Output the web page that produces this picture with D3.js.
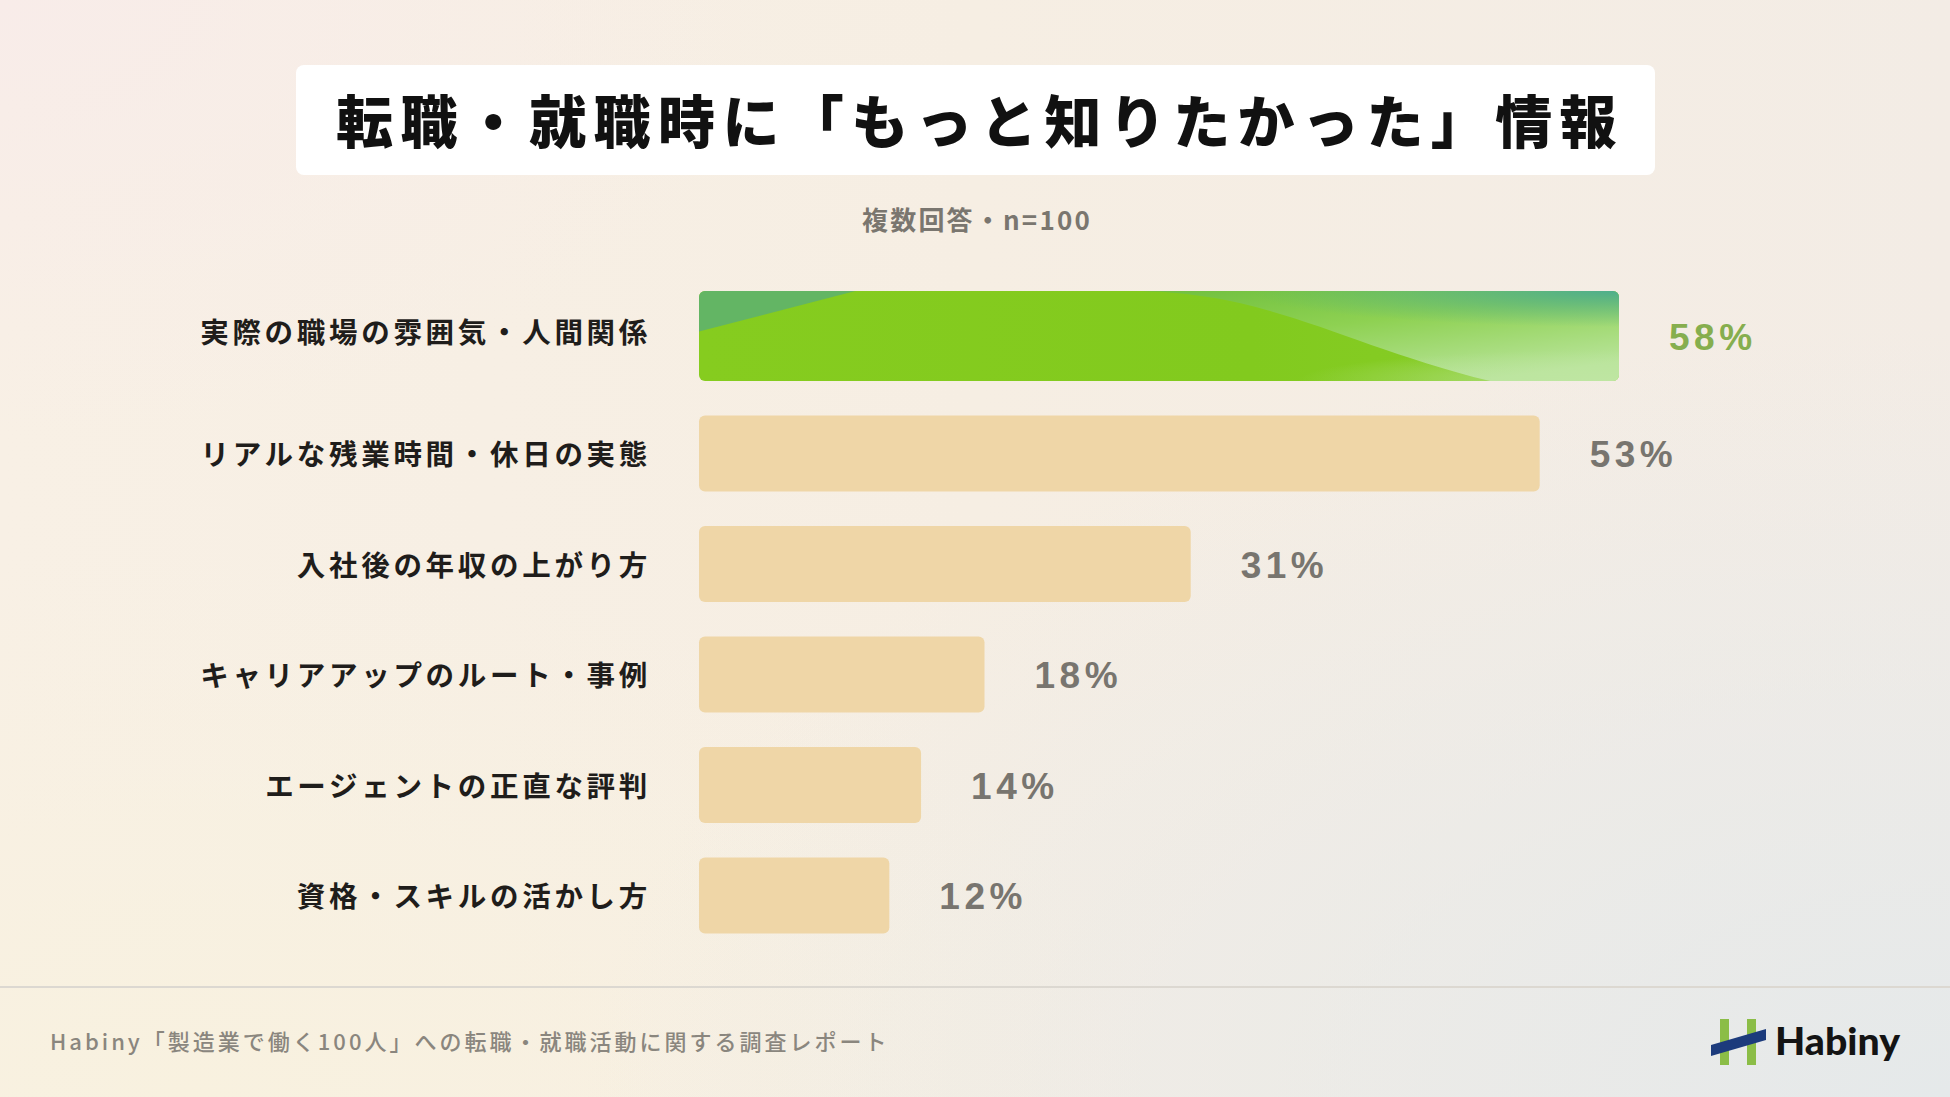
<!DOCTYPE html>
<html lang="ja">
<head>
<meta charset="utf-8">
<script src="https://cdn.jsdelivr.net/npm/d3@7"></script>
<style>
  body { margin: 0; overflow: hidden; }
  svg { display: block; }
</style>
</head>
<body>
<svg></svg>
<script>
        // data
        const categories = [
            "実際の職場の雰囲気・人間関係",
            "リアルな残業時間・休日の実態",
            "入社後の年収の上がり方",
            "キャリアアップのルート・事例",
            "エージェントの正直な評判",
            "資格・スキルの活かし方"
        ];
        const values = [58, 53, 31, 18, 14, 12];
        const highlightIndex = 0;

        const titleText = "転職・就職時に「もっと知りたかった」情報";
        const subtitleText = "複数回答・n=100";
        const footerText = "Habiny「製造業で働く100人」への転職・就職活動に関する調査レポート";
        const logoText = "Habiny";

        const svgWidth = 1950;
        const svgHeight = 1097;

        const svg = d3.select("svg")
            .attr("width", svgWidth)
            .attr("height", svgHeight);

        const defs = svg.append("defs");

        function linear(id, x1, y1, x2, y2, stops) {
            const g = defs.append("linearGradient").attr("id", id)
                .attr("x1", x1).attr("y1", y1).attr("x2", x2).attr("y2", y2);
            stops.forEach(s => g.append("stop").attr("offset", s[0]).attr("stop-color", s[1]).attr("stop-opacity", s[2] == null ? 1 : s[2]));
        }
        function radial(id, cx, cy, r, stops) {
            const g = defs.append("radialGradient").attr("id", id)
                .attr("cx", cx).attr("cy", cy).attr("r", r);
            stops.forEach(s => g.append("stop").attr("offset", s[0]).attr("stop-color", s[1]).attr("stop-opacity", s[2] == null ? 1 : s[2]));
        }

        // background
        linear("bgBase", 0, 0, 1, 0, [[0, "#f8f0e5"], [0.5, "#f6eee3"], [1, "#f3ece5"]]);
        radial("bgBR", 1, 1, 0.7, [[0, "#e5e9ea"], [1, "#e5e9ea", 0]]);
        radial("bgTL", 0, 0, 0.4, [[0, "#f8ece9"], [1, "#f8ece9", 0]]);
        radial("bgBL", 0.1, 1, 0.5, [[0, "#f8f1df"], [1, "#f8f1df", 0]]);

        svg.append("rect").attr("width", svgWidth).attr("height", svgHeight).attr("fill", "url(#bgBase)");
        svg.append("rect").attr("width", svgWidth).attr("height", svgHeight).attr("fill", "url(#bgBL)");
        svg.append("rect").attr("width", svgWidth).attr("height", svgHeight).attr("fill", "url(#bgTL)");
        svg.append("rect").attr("width", svgWidth).attr("height", svgHeight).attr("fill", "url(#bgBR)");

        // title
        svg.append("rect")
            .attr("x", 296).attr("y", 65)
            .attr("width", 1359).attr("height", 110)
            .attr("rx", 8)
            .attr("fill", "#ffffff");

        svg.append("text")
            .attr("x", 980).attr("y", 118)
            .attr("text-anchor", "middle")
            .attr("dominant-baseline", "central")
            .style("font-family", "'Noto Sans CJK JP', sans-serif")
            .style("font-size", "57px")
            .style("font-weight", 900)
            .style("letter-spacing", "7.4px")
            .attr("fill", "#111111")
            .text(titleText);

        svg.append("text")
            .attr("x", 977).attr("y", 218.5)
            .attr("text-anchor", "middle")
            .attr("dominant-baseline", "central")
            .style("font-family", "'Noto Sans CJK JP', sans-serif")
            .style("font-size", "26px")
            .style("font-weight", 700)
            .style("letter-spacing", "2.2px")
            .attr("fill", "#7a766f")
            .text(subtitleText);

        // rows: highlighted row is taller, fixed gap between bars
        const barLeft = 699;
        const rowGap = 34.5;
        const barHeight = i => i === highlightIndex ? 90 : 76;
        const tops = categories.map((c, i) => 291 + d3.sum(categories.slice(0, i), (cc, j) => barHeight(j) + rowGap));

        const y = d3.scaleOrdinal().domain(categories).range(tops);
        const x = d3.scaleLinear().domain([0, d3.max(values)]).range([0, 920]);

        const rows = categories.map((c, i) => ({ name: c, value: values[i], i: i }));

        // green bar texture
        linear("hlBase", 0, 0, 1, 0, [[0, "#86cc1f"], [0.6, "#82ca1e"], [1, "#88cd2a"]]);
        linear("hlWave", 0, 0, 0.7, 1, [[0, "#6fbf3e"], [0.45, "#8ed152"], [1, "#b9e49b"]]);
        radial("hlTeal", 1, 0, 0.4, [[0, "#4fae8c"], [1, "#4fae8c", 0]]);
        radial("hlLight", 1, 1, 0.35, [[0, "#c0e6a4", 0.8], [1, "#c0e6a4", 0]]);

        const bars = svg.append("g");

        rows.forEach(d => {
            const w = x(d.value);
            const h = barHeight(d.i);
            const top = y(d.name);
            if (d.i === highlightIndex) {
                defs.append("clipPath").attr("id", "hlClip")
                    .append("rect")
                    .attr("x", barLeft).attr("y", top)
                    .attr("width", w).attr("height", h)
                    .attr("rx", 6);
                const g = bars.append("g").attr("clip-path", "url(#hlClip)");
                g.append("rect")
                    .attr("x", barLeft).attr("y", top)
                    .attr("width", w).attr("height", h)
                    .attr("fill", "url(#hlBase)");
                const wave = `M${barLeft + 0.47 * w},${top}` +
                    ` C${barLeft + 0.62 * w},${top} ${barLeft + 0.70 * w},${top + 0.6 * h} ${barLeft + 0.86 * w},${top + h}` +
                    ` L${barLeft + w},${top + h} L${barLeft + w},${top} Z`;
                g.append("path").attr("d", wave).attr("fill", "url(#hlWave)");
                g.append("rect")
                    .attr("x", barLeft).attr("y", top)
                    .attr("width", w).attr("height", h)
                    .attr("fill", "url(#hlTeal)");
                g.append("rect")
                    .attr("x", barLeft).attr("y", top)
                    .attr("width", w).attr("height", h)
                    .attr("fill", "url(#hlLight)");
                g.append("path")
                    .attr("d", `M${barLeft},${top} L${barLeft + 0.17 * w},${top} L${barLeft},${top + 0.45 * h} Z`)
                    .attr("fill", "#5fb36c")
                    .attr("opacity", 0.9);
            } else {
                bars.append("rect")
                    .attr("x", barLeft).attr("y", top)
                    .attr("width", w).attr("height", h)
                    .attr("rx", 6)
                    .attr("fill", "#efd6a7");
            }
        });

        // category labels (sit a little above centre on the taller bar)
        svg.append("g").selectAll("text")
            .data(rows)
            .enter().append("text")
            .attr("x", 651)
            .attr("y", d => y(d.name) + (d.i === highlightIndex ? 39 : 37))
            .attr("text-anchor", "end")
            .attr("dominant-baseline", "central")
            .style("font-family", "'Noto Sans CJK JP', sans-serif")
            .style("font-size", "28.5px")
            .style("font-weight", 700)
            .style("letter-spacing", "3.7px")
            .attr("fill", "#1f1d1b")
            .text(d => d.name);

        // value labels
        svg.append("g").selectAll("text")
            .data(rows)
            .enter().append("text")
            .attr("x", d => barLeft + x(d.value) + 50)
            .attr("y", d => y(d.name) + barHeight(d.i) / 2 + 1)
            .attr("dominant-baseline", "central")
            .style("font-family", "'Liberation Sans', Arial, sans-serif")
            .style("font-size", "37px")
            .style("font-weight", 700)
            .style("letter-spacing", "4.5px")
            .attr("fill", d => d.i === highlightIndex ? "#86ae4e" : "#78756f")
            .text(d => d.value + "%");

        // footer
        svg.append("line")
            .attr("x1", 0).attr("x2", svgWidth)
            .attr("y1", 987).attr("y2", 987)
            .attr("stroke", "#dcd8d1")
            .attr("stroke-width", 2);

        svg.append("text")
            .attr("x", 50).attr("y", 1040)
            .attr("dominant-baseline", "central")
            .style("font-family", "'Noto Sans CJK JP', sans-serif")
            .style("font-size", "22px")
            .style("font-weight", 500)
            .style("letter-spacing", "3px")
            .attr("fill", "#8a867e")
            .text(footerText);

        // logo
        const logo = svg.append("g");
        logo.append("rect").attr("x", 1720).attr("y", 1019).attr("width", 9).attr("height", 46).attr("fill", "#8bbd47");
        logo.append("rect").attr("x", 1747).attr("y", 1019).attr("width", 9).attr("height", 46).attr("fill", "#8bbd47");
        logo.append("polygon")
            .attr("points", "1711,1045 1766,1029 1766,1040 1711,1056")
            .attr("fill", "#1c3b7c");
        logo.append("text")
            .attr("x", 1775).attr("y", 1055)
            .attr("textLength", 125)
            .attr("lengthAdjust", "spacingAndGlyphs")
            .style("font-family", "Lato, 'Noto Sans', sans-serif")
            .style("font-size", "38px")
            .style("font-weight", 900)
            .attr("fill", "#141414")
            .text(logoText);
</script>
</body>
</html>
